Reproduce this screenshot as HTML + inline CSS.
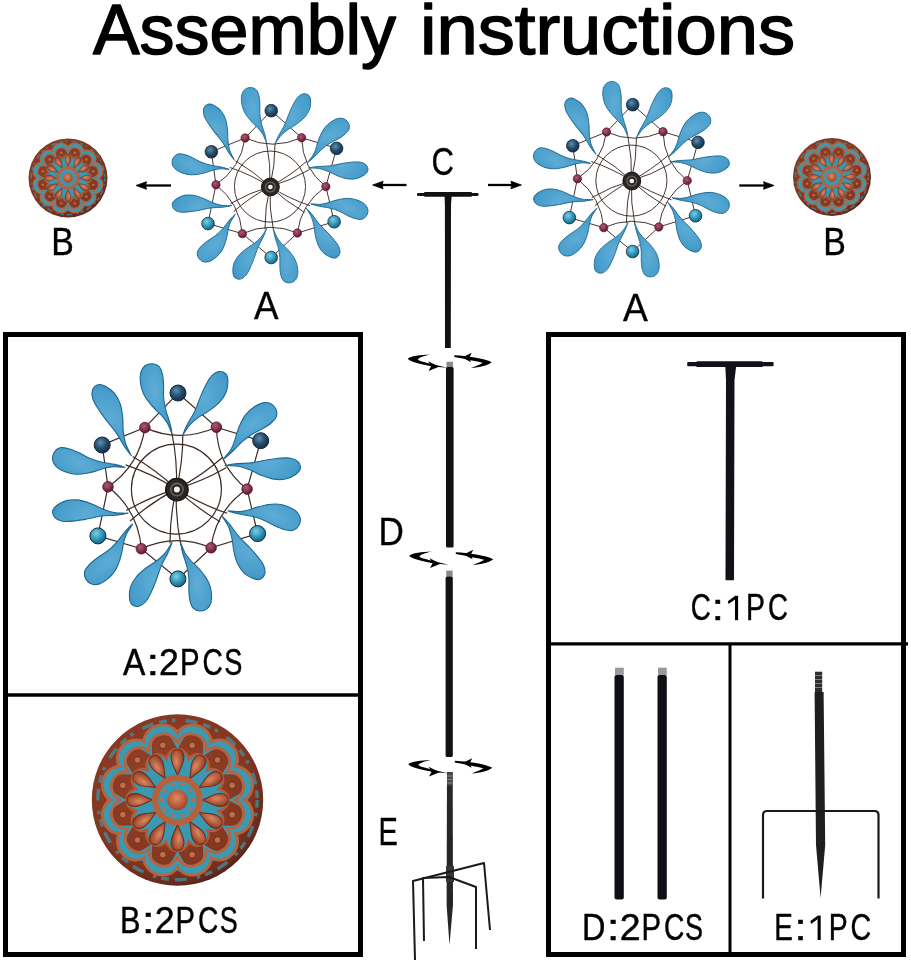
<!DOCTYPE html>
<html><head><meta charset="utf-8"><title>Assembly instructions</title>
<style>html,body{margin:0;padding:0;background:#fff;width:911px;height:964px;overflow:hidden}svg{position:absolute;left:0;top:0;display:block;will-change:transform}</style>
</head><body>
<svg width="911" height="964" viewBox="0 0 911 964">
<defs>
<radialGradient id="pg" cx="0.45" cy="0.4" r="0.75"><stop offset="0" stop-color="#5eacd6"/><stop offset="0.7" stop-color="#469cca"/><stop offset="1" stop-color="#3084b4"/></radialGradient>
<radialGradient id="bg" cx="0.4" cy="0.35" r="0.7"><stop offset="0" stop-color="#5a90b0"/><stop offset="0.55" stop-color="#244a6a"/><stop offset="1" stop-color="#142a40"/></radialGradient><radialGradient id="bt" cx="0.4" cy="0.35" r="0.7"><stop offset="0" stop-color="#7ad0e8"/><stop offset="0.6" stop-color="#2a8eb0"/><stop offset="1" stop-color="#1a5a78"/></radialGradient>
<radialGradient id="rg" cx="0.4" cy="0.35" r="0.7"><stop offset="0" stop-color="#b05878"/><stop offset="1" stop-color="#5a1428"/></radialGradient>
<radialGradient id="og" cx="0.45" cy="0.42" r="0.6"><stop offset="0" stop-color="#9a4428"/><stop offset="0.8" stop-color="#843620"/><stop offset="0.95" stop-color="#682a1c"/><stop offset="1" stop-color="#4a1c14"/></radialGradient>
<radialGradient id="op" cx="0.55" cy="0.4" r="0.6"><stop offset="0" stop-color="#dc8860"/><stop offset="1" stop-color="#8e3a22"/></radialGradient>
<radialGradient id="oc" cx="0.45" cy="0.4" r="0.6"><stop offset="0" stop-color="#e08a60"/><stop offset="1" stop-color="#a04428"/></radialGradient>
<g id="sp"><g stroke="#3e2a24" stroke-width="1.2"><circle r="45" fill="none"/><path d="M0,0Q1.2,-28.1 -4.5,-56.1" fill="none"/><path d="M0,0Q6.5,-26.5 6.4,-54.1" fill="none"/><path d="M0,0Q24.9,-13 46.3,-31.9" fill="none"/><path d="M0,0Q26.1,-7.6 50.1,-21.5" fill="none"/><path d="M0,0Q23.8,15.1 50.8,24.2" fill="none"/><path d="M0,0Q19.7,18.8 43.7,32.6" fill="none"/><path d="M0,0Q-1.2,28.1 4.5,56.1" fill="none"/><path d="M0,0Q-6.5,26.5 -6.4,54.1" fill="none"/><path d="M0,0Q-24.9,13 -46.3,31.9" fill="none"/><path d="M0,0Q-26.1,7.6 -50.1,21.5" fill="none"/><path d="M0,0Q-23.8,-15.1 -50.8,-24.2" fill="none"/><path d="M0,0Q-19.7,-18.8 -43.7,-32.6" fill="none"/><path d="M40,-61.9Q41,-22.9 70.7,0" fill="none"/><path d="M70.7,0Q39,21.7 34.7,58.7" fill="none"/><path d="M34.7,58.7Q-0.1,43.8 -35,59.6" fill="none"/><path d="M-35,59.6Q-38.3,21.2 -68.4,-2.3" fill="none"/><path d="M-68.4,-2.3Q-37,-23.6 -31.5,-61.5" fill="none"/><path d="M-31.5,-61.5Q3.1,-45.7 40,-61.9" fill="none"/><path d="M-31.5,-61.5 1.6,-96.1 40,-61.9 84.3,-48.4 70.7,0 81.2,44.5 34.7,58.7 1.5,89.8 -35,59.6 -78.5,46.8 -68.4,-2.3 -74.2,-44.1Z" fill="none"/></g><g fill="url(#pg)" stroke="#1f6890" stroke-width="1.1"><path d="M-4.5,-56.1C-4.6,-57.2 -5.5,-62.1 -6.5,-66C-7.5,-69.9 -9.6,-75 -10.7,-79.3C-11.8,-83.6 -12.5,-87.6 -12.8,-91.8C-13.2,-96 -12.6,-100.3 -12.8,-104.2C-13,-108.1 -13.2,-112 -14,-115C-14.8,-118 -15.6,-120.8 -17.3,-122.5C-19,-124.2 -21.6,-125.3 -24,-125.4C-26.4,-125.5 -29.5,-124.8 -31.4,-123.3C-33.3,-121.8 -34.8,-119.5 -35.6,-116.7C-36.4,-113.9 -36.4,-110.2 -36,-106.7C-35.6,-103.2 -34.6,-99.2 -33.1,-95.9C-31.7,-92.6 -29.4,-89.6 -27.3,-86.8C-25.2,-84 -22.9,-81.6 -20.7,-79.3C-18.5,-77 -15.9,-74.9 -14,-72.7C-12.1,-70.5 -10.3,-68.2 -9,-66C-7.7,-63.8 -6.8,-61 -6.1,-59.4C-5.3,-57.8 -4.4,-55 -4.5,-56.1Z" transform="rotate(0)"/><path d="M6.4,-54.1C6.9,-55.5 9.1,-61.1 11.1,-65C13.1,-68.9 15.9,-72.7 18.1,-77.4C20.3,-82.1 22.4,-88.5 24.3,-93C26.2,-97.5 27.9,-101.2 29.7,-104.6C31.5,-108 33.1,-111 35.2,-113.2C37.3,-115.4 39.9,-117.1 42.2,-117.5C44.5,-117.9 47.7,-117 49.2,-115.5C50.8,-114 51.4,-111.5 51.5,-108.5C51.6,-105.5 51.3,-101.1 50,-97.6C48.7,-94.1 46.4,-90.6 43.7,-87.5C41,-84.4 37,-81.5 33.6,-79C30.2,-76.5 26.7,-75 23.5,-72.7C20.3,-70.4 16.8,-67.7 14.2,-65C11.6,-62.3 9.2,-58.2 7.9,-56.4C6.6,-54.6 5.9,-52.7 6.4,-54.1Z" transform="rotate(0)"/><path d="M-4.5,-56.1C-4.6,-57.2 -5.5,-62.1 -6.5,-66C-7.5,-69.9 -9.6,-75 -10.7,-79.3C-11.8,-83.6 -12.5,-87.6 -12.8,-91.8C-13.2,-96 -12.6,-100.3 -12.8,-104.2C-13,-108.1 -13.2,-112 -14,-115C-14.8,-118 -15.6,-120.8 -17.3,-122.5C-19,-124.2 -21.6,-125.3 -24,-125.4C-26.4,-125.5 -29.5,-124.8 -31.4,-123.3C-33.3,-121.8 -34.8,-119.5 -35.6,-116.7C-36.4,-113.9 -36.4,-110.2 -36,-106.7C-35.6,-103.2 -34.6,-99.2 -33.1,-95.9C-31.7,-92.6 -29.4,-89.6 -27.3,-86.8C-25.2,-84 -22.9,-81.6 -20.7,-79.3C-18.5,-77 -15.9,-74.9 -14,-72.7C-12.1,-70.5 -10.3,-68.2 -9,-66C-7.7,-63.8 -6.8,-61 -6.1,-59.4C-5.3,-57.8 -4.4,-55 -4.5,-56.1Z" transform="rotate(62)"/><path d="M6.4,-54.1C6.9,-55.5 9.1,-61.1 11.1,-65C13.1,-68.9 15.9,-72.7 18.1,-77.4C20.3,-82.1 22.4,-88.5 24.3,-93C26.2,-97.5 27.9,-101.2 29.7,-104.6C31.5,-108 33.1,-111 35.2,-113.2C37.3,-115.4 39.9,-117.1 42.2,-117.5C44.5,-117.9 47.7,-117 49.2,-115.5C50.8,-114 51.4,-111.5 51.5,-108.5C51.6,-105.5 51.3,-101.1 50,-97.6C48.7,-94.1 46.4,-90.6 43.7,-87.5C41,-84.4 37,-81.5 33.6,-79C30.2,-76.5 26.7,-75 23.5,-72.7C20.3,-70.4 16.8,-67.7 14.2,-65C11.6,-62.3 9.2,-58.2 7.9,-56.4C6.6,-54.6 5.9,-52.7 6.4,-54.1Z" transform="rotate(57.6)"/><path d="M-4.5,-56.1C-4.6,-57.2 -5.5,-62.1 -6.5,-66C-7.5,-69.9 -9.6,-75 -10.7,-79.3C-11.8,-83.6 -12.5,-87.6 -12.8,-91.8C-13.2,-96 -12.6,-100.3 -12.8,-104.2C-13,-108.1 -13.2,-112 -14,-115C-14.8,-118 -15.6,-120.8 -17.3,-122.5C-19,-124.2 -21.6,-125.3 -24,-125.4C-26.4,-125.5 -29.5,-124.8 -31.4,-123.3C-33.3,-121.8 -34.8,-119.5 -35.6,-116.7C-36.4,-113.9 -36.4,-110.2 -36,-106.7C-35.6,-103.2 -34.6,-99.2 -33.1,-95.9C-31.7,-92.6 -29.4,-89.6 -27.3,-86.8C-25.2,-84 -22.9,-81.6 -20.7,-79.3C-18.5,-77 -15.9,-74.9 -14,-72.7C-12.1,-70.5 -10.3,-68.2 -9,-66C-7.7,-63.8 -6.8,-61 -6.1,-59.4C-5.3,-57.8 -4.4,-55 -4.5,-56.1Z" transform="rotate(117.5)"/><path d="M6.4,-54.1C6.9,-55.5 9.1,-61.1 11.1,-65C13.1,-68.9 15.9,-72.7 18.1,-77.4C20.3,-82.1 22.4,-88.5 24.3,-93C26.2,-97.5 27.9,-101.2 29.7,-104.6C31.5,-108 33.1,-111 35.2,-113.2C37.3,-115.4 39.9,-117.1 42.2,-117.5C44.5,-117.9 47.7,-117 49.2,-115.5C50.8,-114 51.4,-111.5 51.5,-108.5C51.6,-105.5 51.3,-101.1 50,-97.6C48.7,-94.1 46.4,-90.6 43.7,-87.5C41,-84.4 37,-81.5 33.6,-79C30.2,-76.5 26.7,-75 23.5,-72.7C20.3,-70.4 16.8,-67.7 14.2,-65C11.6,-62.3 9.2,-58.2 7.9,-56.4C6.6,-54.6 5.9,-52.7 6.4,-54.1Z" transform="rotate(114) scale(0.98)"/><path d="M-4.5,-56.1C-4.6,-57.2 -5.5,-62.1 -6.5,-66C-7.5,-69.9 -9.6,-75 -10.7,-79.3C-11.8,-83.6 -12.5,-87.6 -12.8,-91.8C-13.2,-96 -12.6,-100.3 -12.8,-104.2C-13,-108.1 -13.2,-112 -14,-115C-14.8,-118 -15.6,-120.8 -17.3,-122.5C-19,-124.2 -21.6,-125.3 -24,-125.4C-26.4,-125.5 -29.5,-124.8 -31.4,-123.3C-33.3,-121.8 -34.8,-119.5 -35.6,-116.7C-36.4,-113.9 -36.4,-110.2 -36,-106.7C-35.6,-103.2 -34.6,-99.2 -33.1,-95.9C-31.7,-92.6 -29.4,-89.6 -27.3,-86.8C-25.2,-84 -22.9,-81.6 -20.7,-79.3C-18.5,-77 -15.9,-74.9 -14,-72.7C-12.1,-70.5 -10.3,-68.2 -9,-66C-7.7,-63.8 -6.8,-61 -6.1,-59.4C-5.3,-57.8 -4.4,-55 -4.5,-56.1Z" transform="rotate(180) scale(0.972)"/><path d="M6.4,-54.1C6.9,-55.5 9.1,-61.1 11.1,-65C13.1,-68.9 15.9,-72.7 18.1,-77.4C20.3,-82.1 22.4,-88.5 24.3,-93C26.2,-97.5 27.9,-101.2 29.7,-104.6C31.5,-108 33.1,-111 35.2,-113.2C37.3,-115.4 39.9,-117.1 42.2,-117.5C44.5,-117.9 47.7,-117 49.2,-115.5C50.8,-114 51.4,-111.5 51.5,-108.5C51.6,-105.5 51.3,-101.1 50,-97.6C48.7,-94.1 46.4,-90.6 43.7,-87.5C41,-84.4 37,-81.5 33.6,-79C30.2,-76.5 26.7,-75 23.5,-72.7C20.3,-70.4 16.8,-67.7 14.2,-65C11.6,-62.3 9.2,-58.2 7.9,-56.4C6.6,-54.6 5.9,-52.7 6.4,-54.1Z" transform="rotate(178) scale(0.985)"/><path d="M-4.5,-56.1C-4.6,-57.2 -5.5,-62.1 -6.5,-66C-7.5,-69.9 -9.6,-75 -10.7,-79.3C-11.8,-83.6 -12.5,-87.6 -12.8,-91.8C-13.2,-96 -12.6,-100.3 -12.8,-104.2C-13,-108.1 -13.2,-112 -14,-115C-14.8,-118 -15.6,-120.8 -17.3,-122.5C-19,-124.2 -21.6,-125.3 -24,-125.4C-26.4,-125.5 -29.5,-124.8 -31.4,-123.3C-33.3,-121.8 -34.8,-119.5 -35.6,-116.7C-36.4,-113.9 -36.4,-110.2 -36,-106.7C-35.6,-103.2 -34.6,-99.2 -33.1,-95.9C-31.7,-92.6 -29.4,-89.6 -27.3,-86.8C-25.2,-84 -22.9,-81.6 -20.7,-79.3C-18.5,-77 -15.9,-74.9 -14,-72.7C-12.1,-70.5 -10.3,-68.2 -9,-66C-7.7,-63.8 -6.8,-61 -6.1,-59.4C-5.3,-57.8 -4.4,-55 -4.5,-56.1Z" transform="rotate(236)"/><path d="M6.4,-54.1C6.9,-55.5 9.1,-61.1 11.1,-65C13.1,-68.9 15.9,-72.7 18.1,-77.4C20.3,-82.1 22.4,-88.5 24.3,-93C26.2,-97.5 27.9,-101.2 29.7,-104.6C31.5,-108 33.1,-111 35.2,-113.2C37.3,-115.4 39.9,-117.1 42.2,-117.5C44.5,-117.9 47.7,-117 49.2,-115.5C50.8,-114 51.4,-111.5 51.5,-108.5C51.6,-105.5 51.3,-101.1 50,-97.6C48.7,-94.1 46.4,-90.6 43.7,-87.5C41,-84.4 37,-81.5 33.6,-79C30.2,-76.5 26.7,-75 23.5,-72.7C20.3,-70.4 16.8,-67.7 14.2,-65C11.6,-62.3 9.2,-58.2 7.9,-56.4C6.6,-54.6 5.9,-52.7 6.4,-54.1Z" transform="rotate(237)"/><path d="M-4.5,-56.1C-4.6,-57.2 -5.5,-62.1 -6.5,-66C-7.5,-69.9 -9.6,-75 -10.7,-79.3C-11.8,-83.6 -12.5,-87.6 -12.8,-91.8C-13.2,-96 -12.6,-100.3 -12.8,-104.2C-13,-108.1 -13.2,-112 -14,-115C-14.8,-118 -15.6,-120.8 -17.3,-122.5C-19,-124.2 -21.6,-125.3 -24,-125.4C-26.4,-125.5 -29.5,-124.8 -31.4,-123.3C-33.3,-121.8 -34.8,-119.5 -35.6,-116.7C-36.4,-113.9 -36.4,-110.2 -36,-106.7C-35.6,-103.2 -34.6,-99.2 -33.1,-95.9C-31.7,-92.6 -29.4,-89.6 -27.3,-86.8C-25.2,-84 -22.9,-81.6 -20.7,-79.3C-18.5,-77 -15.9,-74.9 -14,-72.7C-12.1,-70.5 -10.3,-68.2 -9,-66C-7.7,-63.8 -6.8,-61 -6.1,-59.4C-5.3,-57.8 -4.4,-55 -4.5,-56.1Z" transform="rotate(297.5)"/><path d="M6.4,-54.1C6.9,-55.5 9.1,-61.1 11.1,-65C13.1,-68.9 15.9,-72.7 18.1,-77.4C20.3,-82.1 22.4,-88.5 24.3,-93C26.2,-97.5 27.9,-101.2 29.7,-104.6C31.5,-108 33.1,-111 35.2,-113.2C37.3,-115.4 39.9,-117.1 42.2,-117.5C44.5,-117.9 47.7,-117 49.2,-115.5C50.8,-114 51.4,-111.5 51.5,-108.5C51.6,-105.5 51.3,-101.1 50,-97.6C48.7,-94.1 46.4,-90.6 43.7,-87.5C41,-84.4 37,-81.5 33.6,-79C30.2,-76.5 26.7,-75 23.5,-72.7C20.3,-70.4 16.8,-67.7 14.2,-65C11.6,-62.3 9.2,-58.2 7.9,-56.4C6.6,-54.6 5.9,-52.7 6.4,-54.1Z" transform="rotate(300) scale(1.04)"/></g><g><circle cx="1.6" cy="-96.1" r="8" fill="url(#bg)" stroke="#14283a" stroke-width="1"/><circle cx="84.3" cy="-48.4" r="8" fill="url(#bg)" stroke="#14283a" stroke-width="1"/><circle cx="81.2" cy="44.5" r="8" fill="url(#bt)" stroke="#14283a" stroke-width="1"/><circle cx="1.5" cy="89.8" r="8" fill="url(#bt)" stroke="#14283a" stroke-width="1"/><circle cx="-78.5" cy="46.8" r="8" fill="url(#bt)" stroke="#14283a" stroke-width="1"/><circle cx="-74.2" cy="-44.1" r="8" fill="url(#bg)" stroke="#14283a" stroke-width="1"/></g><g><circle cx="40" cy="-61.9" r="5.3" fill="url(#rg)" stroke="#5a1428" stroke-width="0.8"/><circle cx="70.7" cy="0" r="5.3" fill="url(#rg)" stroke="#5a1428" stroke-width="0.8"/><circle cx="34.7" cy="58.7" r="5.3" fill="url(#rg)" stroke="#5a1428" stroke-width="0.8"/><circle cx="-35" cy="59.6" r="5.3" fill="url(#rg)" stroke="#5a1428" stroke-width="0.8"/><circle cx="-68.4" cy="-2.3" r="5.3" fill="url(#rg)" stroke="#5a1428" stroke-width="0.8"/><circle cx="-31.5" cy="-61.5" r="5.3" fill="url(#rg)" stroke="#5a1428" stroke-width="0.8"/></g><circle cx="0.5" cy="0.5" r="11.3" fill="#2a2626" stroke="#141010" stroke-width="1.2"/><circle cx="0.5" cy="0.5" r="6.2" fill="none" stroke="#6a6462" stroke-width="1.6"/><circle cx="0.5" cy="0.5" r="3" fill="#f4f2f0"/></g><g id="orn"><circle r="100" fill="url(#og)"/><circle r="93" fill="none" stroke="#3d8fa0" stroke-width="4" stroke-dasharray="9 6 4 12 14 7" opacity="0.75"/><path d="M72,0C89.5,9.4 82.2,36.6 62.4,36C72.8,52.9 52.9,72.8 36,62.4C36.6,82.2 9.4,89.5 0,72C-9.4,89.5 -36.6,82.2 -36,62.4C-52.9,72.8 -72.8,52.9 -62.4,36C-82.2,36.6 -89.5,9.4 -72,0C-89.5,-9.4 -82.2,-36.6 -62.4,-36C-72.8,-52.9 -52.9,-72.8 -36,-62.4C-36.6,-82.2 -9.4,-89.5 -0,-72C9.4,-89.5 36.6,-82.2 36,-62.4C52.9,-72.8 72.8,-52.9 62.4,-36C82.2,-36.6 89.5,-9.4 72,-0Z" fill="none" stroke="#3a9ab2" stroke-width="12"/><path d="M78,0C95.5,10 87.7,39 67.5,39C77.7,56.4 56.4,77.7 39,67.5C39,87.7 10,95.5 0,78C-10,95.5 -39,87.7 -39,67.5C-56.4,77.7 -77.7,56.4 -67.5,39C-87.7,39 -95.5,10 -78,0C-95.5,-10 -87.7,-39 -67.5,-39C-77.7,-56.4 -56.4,-77.7 -39,-67.5C-39,-87.7 -10,-95.5 -0,-78C10,-95.5 39,-87.7 39,-67.5C56.4,-77.7 77.7,-56.4 67.5,-39C87.7,-39 95.5,-10 78,-0Z" fill="none" stroke="#b8623e" stroke-width="3.2"/><path d="M67,0C84.5,8.9 77.7,34.6 58,33.5C68.8,50 50,68.8 33.5,58C34.6,77.7 8.9,84.5 0,67C-8.9,84.5 -34.6,77.7 -33.5,58C-50,68.8 -68.8,50 -58,33.5C-77.7,34.6 -84.5,8.9 -67,0C-84.5,-8.9 -77.7,-34.6 -58,-33.5C-68.8,-50 -50,-68.8 -33.5,-58C-34.6,-77.7 -8.9,-84.5 -0,-67C8.9,-84.5 34.6,-77.7 33.5,-58C50,-68.8 68.8,-50 58,-33.5C77.7,-34.6 84.5,-8.9 67,-0Z" fill="none" stroke="#b8623e" stroke-width="3.2"/><circle cx="63.8" cy="17.1" r="3.8" fill="#c07048" stroke="#5a2418" stroke-width="0.8"/><circle cx="46.7" cy="46.7" r="3.8" fill="#c07048" stroke="#5a2418" stroke-width="0.8"/><circle cx="17.1" cy="63.8" r="3.8" fill="#c07048" stroke="#5a2418" stroke-width="0.8"/><circle cx="-17.1" cy="63.8" r="3.8" fill="#c07048" stroke="#5a2418" stroke-width="0.8"/><circle cx="-46.7" cy="46.7" r="3.8" fill="#c07048" stroke="#5a2418" stroke-width="0.8"/><circle cx="-63.8" cy="17.1" r="3.8" fill="#c07048" stroke="#5a2418" stroke-width="0.8"/><circle cx="-63.8" cy="-17.1" r="3.8" fill="#c07048" stroke="#5a2418" stroke-width="0.8"/><circle cx="-46.7" cy="-46.7" r="3.8" fill="#c07048" stroke="#5a2418" stroke-width="0.8"/><circle cx="-17.1" cy="-63.8" r="3.8" fill="#c07048" stroke="#5a2418" stroke-width="0.8"/><circle cx="17.1" cy="-63.8" r="3.8" fill="#c07048" stroke="#5a2418" stroke-width="0.8"/><circle cx="46.7" cy="-46.7" r="3.8" fill="#c07048" stroke="#5a2418" stroke-width="0.8"/><circle cx="63.8" cy="-17.1" r="3.8" fill="#c07048" stroke="#5a2418" stroke-width="0.8"/><path d="M48.3,12.9C59.7,22.9 49.7,40.3 35.4,35.4C40.3,49.7 22.9,59.7 12.9,48.3C10,63.2 -10,63.2 -12.9,48.3C-22.9,59.7 -40.3,49.7 -35.4,35.4C-49.7,40.3 -59.7,22.9 -48.3,12.9C-63.2,10 -63.2,-10 -48.3,-12.9C-59.7,-22.9 -49.7,-40.3 -35.4,-35.4C-40.3,-49.7 -22.9,-59.7 -12.9,-48.3C-10,-63.2 10,-63.2 12.9,-48.3C22.9,-59.7 40.3,-49.7 35.4,-35.4C49.7,-40.3 59.7,-22.9 48.3,-12.9C63.2,-10 63.2,10 48.3,12.9Z" fill="#3a98b0" stroke="#b05a38" stroke-width="3"/><path d="M28,0C36,-2 42,-7.5 50,-7.5C56,-7.5 59,-4 59,0C59,4 56,7.5 50,7.5C42,7.5 36,2 28,0Z" transform="rotate(0)" fill="url(#op)" stroke="#6a2c1a" stroke-width="1.2"/><path d="M28,0C36,-2 42,-7.5 50,-7.5C56,-7.5 59,-4 59,0C59,4 56,7.5 50,7.5C42,7.5 36,2 28,0Z" transform="rotate(30)" fill="url(#op)" stroke="#6a2c1a" stroke-width="1.2"/><path d="M28,0C36,-2 42,-7.5 50,-7.5C56,-7.5 59,-4 59,0C59,4 56,7.5 50,7.5C42,7.5 36,2 28,0Z" transform="rotate(60)" fill="url(#op)" stroke="#6a2c1a" stroke-width="1.2"/><path d="M28,0C36,-2 42,-7.5 50,-7.5C56,-7.5 59,-4 59,0C59,4 56,7.5 50,7.5C42,7.5 36,2 28,0Z" transform="rotate(90)" fill="url(#op)" stroke="#6a2c1a" stroke-width="1.2"/><path d="M28,0C36,-2 42,-7.5 50,-7.5C56,-7.5 59,-4 59,0C59,4 56,7.5 50,7.5C42,7.5 36,2 28,0Z" transform="rotate(120)" fill="url(#op)" stroke="#6a2c1a" stroke-width="1.2"/><path d="M28,0C36,-2 42,-7.5 50,-7.5C56,-7.5 59,-4 59,0C59,4 56,7.5 50,7.5C42,7.5 36,2 28,0Z" transform="rotate(150)" fill="url(#op)" stroke="#6a2c1a" stroke-width="1.2"/><path d="M28,0C36,-2 42,-7.5 50,-7.5C56,-7.5 59,-4 59,0C59,4 56,7.5 50,7.5C42,7.5 36,2 28,0Z" transform="rotate(180)" fill="url(#op)" stroke="#6a2c1a" stroke-width="1.2"/><path d="M28,0C36,-2 42,-7.5 50,-7.5C56,-7.5 59,-4 59,0C59,4 56,7.5 50,7.5C42,7.5 36,2 28,0Z" transform="rotate(210)" fill="url(#op)" stroke="#6a2c1a" stroke-width="1.2"/><path d="M28,0C36,-2 42,-7.5 50,-7.5C56,-7.5 59,-4 59,0C59,4 56,7.5 50,7.5C42,7.5 36,2 28,0Z" transform="rotate(240)" fill="url(#op)" stroke="#6a2c1a" stroke-width="1.2"/><path d="M28,0C36,-2 42,-7.5 50,-7.5C56,-7.5 59,-4 59,0C59,4 56,7.5 50,7.5C42,7.5 36,2 28,0Z" transform="rotate(270)" fill="url(#op)" stroke="#6a2c1a" stroke-width="1.2"/><path d="M28,0C36,-2 42,-7.5 50,-7.5C56,-7.5 59,-4 59,0C59,4 56,7.5 50,7.5C42,7.5 36,2 28,0Z" transform="rotate(300)" fill="url(#op)" stroke="#6a2c1a" stroke-width="1.2"/><path d="M28,0C36,-2 42,-7.5 50,-7.5C56,-7.5 59,-4 59,0C59,4 56,7.5 50,7.5C42,7.5 36,2 28,0Z" transform="rotate(330)" fill="url(#op)" stroke="#6a2c1a" stroke-width="1.2"/><circle r="26" fill="#3a98b0" stroke="#b8603c" stroke-width="7"/><circle cx="19" cy="0" r="2.2" fill="#c06a48"/><circle cx="15.4" cy="11.2" r="2.2" fill="#c06a48"/><circle cx="5.9" cy="18.1" r="2.2" fill="#c06a48"/><circle cx="-5.9" cy="18.1" r="2.2" fill="#c06a48"/><circle cx="-15.4" cy="11.2" r="2.2" fill="#c06a48"/><circle cx="-19" cy="0" r="2.2" fill="#c06a48"/><circle cx="-15.4" cy="-11.2" r="2.2" fill="#c06a48"/><circle cx="-5.9" cy="-18.1" r="2.2" fill="#c06a48"/><circle cx="5.9" cy="-18.1" r="2.2" fill="#c06a48"/><circle cx="15.4" cy="-11.2" r="2.2" fill="#c06a48"/><circle r="12" fill="url(#oc)"/></g></defs>
<g stroke="#000" stroke-width="1.5" stroke-linejoin="round"><text x="93" y="54" font-family="Liberation Sans" fill="#000" font-size="70" textLength="303" lengthAdjust="spacingAndGlyphs">Assembly</text><text x="420" y="54" font-family="Liberation Sans" fill="#000" font-size="70" textLength="375" lengthAdjust="spacingAndGlyphs">instructions</text></g>
<use href="#sp" transform="translate(270,186.6) scale(0.79)"/>
<use href="#sp" transform="translate(631.4,180.6) scale(0.79)"/>
<use href="#sp" transform="translate(176.4,489.1)"/>
<use href="#orn" transform="translate(68,178) scale(0.395)"/>
<use href="#orn" transform="translate(832,177) scale(0.39)"/>
<use href="#orn" transform="translate(177.5,800) scale(0.857)"/>
<g stroke="#000" stroke-width="0.35"><text x="51.2" y="254.5" font-family="Liberation Sans" font-size="39" textLength="22.57" lengthAdjust="spacingAndGlyphs">B</text></g>
<g stroke="#000" stroke-width="0.35"><text x="253.9" y="318.5" font-family="Liberation Sans" font-size="39" textLength="24.55" lengthAdjust="spacingAndGlyphs">A</text></g>
<g stroke="#000" stroke-width="0.35"><text x="431.6" y="175.3" font-family="Liberation Sans" font-size="39" textLength="22.47" lengthAdjust="spacingAndGlyphs">C</text></g>
<g stroke="#000" stroke-width="0.35"><text x="622.9" y="320.6" font-family="Liberation Sans" font-size="39" textLength="24.85" lengthAdjust="spacingAndGlyphs">A</text></g>
<g stroke="#000" stroke-width="0.35"><text x="823.2" y="254.6" font-family="Liberation Sans" font-size="39" textLength="22.57" lengthAdjust="spacingAndGlyphs">B</text></g>
<g stroke="#000" stroke-width="0.35"><text x="378.6" y="545" font-family="Liberation Sans" font-size="39" textLength="25.37" lengthAdjust="spacingAndGlyphs">D</text></g>
<g stroke="#000" stroke-width="0.35"><text x="378.4" y="845" font-family="Liberation Sans" font-size="39" textLength="19.32" lengthAdjust="spacingAndGlyphs">E</text></g>
<path d="M143,185.5H171" stroke="#000" stroke-width="2.3"/><path d="M136,185.5L146.5,181.7L145.5,185.5L146.5,189.3Z" fill="#000" stroke="#000" stroke-width="0.8" stroke-linejoin="round"/>
<path d="M379.6,185H406.5" stroke="#000" stroke-width="2.3"/><path d="M372.6,185L383.1,181.2L382.1,185L383.1,188.8Z" fill="#000" stroke="#000" stroke-width="0.8" stroke-linejoin="round"/>
<path d="M488,185H514.4" stroke="#000" stroke-width="2.3"/><path d="M521.4,185L510.9,181.2L511.9,185L510.9,188.8Z" fill="#000" stroke="#000" stroke-width="0.8" stroke-linejoin="round"/>
<path d="M739.3,185.5H767" stroke="#000" stroke-width="2.3"/><path d="M774,185.5L763.5,181.7L764.5,185.5L763.5,189.3Z" fill="#000" stroke="#000" stroke-width="0.8" stroke-linejoin="round"/>
<g fill="none" stroke="#000">
<rect x="5.5" y="334.5" width="355" height="620" stroke-width="5"/>
<rect x="548.5" y="334.5" width="355" height="620" stroke-width="5"/>
<path d="M8,695H358" stroke-width="3.5"/>
<path d="M551,643.8H908" stroke-width="3.2"/>
<path d="M730,645V952" stroke-width="3"/>
</g>
<g fill="#000" stroke="#000" stroke-width="0.45"><text x="123.1" y="675.3" font-family="Liberation Sans" font-size="36" textLength="22.33" lengthAdjust="spacingAndGlyphs">A</text><text x="146.4" y="675.3" font-family="Liberation Sans" font-size="36" textLength="12.74" lengthAdjust="spacingAndGlyphs">:</text><text x="159.1" y="675.3" font-family="Liberation Sans" font-size="36" textLength="19.87" lengthAdjust="spacingAndGlyphs">2</text><text x="180" y="675.3" font-family="Liberation Sans" font-size="36" textLength="19.56" lengthAdjust="spacingAndGlyphs">P</text><text x="202.5" y="675.3" font-family="Liberation Sans" font-size="36" textLength="20.30" lengthAdjust="spacingAndGlyphs">C</text><text x="224.2" y="675.3" font-family="Liberation Sans" font-size="36" textLength="18.10" lengthAdjust="spacingAndGlyphs">S</text></g>
<g fill="#000" stroke="#000" stroke-width="0.45"><text x="119.9" y="933.1" font-family="Liberation Sans" font-size="36" textLength="20.44" lengthAdjust="spacingAndGlyphs">B</text><text x="141.8" y="933.1" font-family="Liberation Sans" font-size="36" textLength="13.03" lengthAdjust="spacingAndGlyphs">:</text><text x="154.7" y="933.1" font-family="Liberation Sans" font-size="36" textLength="19.87" lengthAdjust="spacingAndGlyphs">2</text><text x="175.6" y="933.1" font-family="Liberation Sans" font-size="36" textLength="19.43" lengthAdjust="spacingAndGlyphs">P</text><text x="198.1" y="933.1" font-family="Liberation Sans" font-size="36" textLength="20.30" lengthAdjust="spacingAndGlyphs">C</text><text x="219.8" y="933.1" font-family="Liberation Sans" font-size="36" textLength="17.98" lengthAdjust="spacingAndGlyphs">S</text></g>
<g fill="#000" stroke="#000" stroke-width="0.45"><text x="690.8" y="620.2" font-family="Liberation Sans" font-size="36" textLength="20.07" lengthAdjust="spacingAndGlyphs">C</text><text x="711.8" y="620.2" font-family="Liberation Sans" font-size="36" textLength="12.16" lengthAdjust="spacingAndGlyphs">:</text><path d="M735,595.8H738.1V620.2H735Z" stroke="none"/><path d="M735.3,595.8L727.9,601.3L728.5,604.1L735,599.5Z" stroke="none"/><text x="746.1" y="620.2" font-family="Liberation Sans" font-size="36" textLength="18.93" lengthAdjust="spacingAndGlyphs">P</text><text x="768.1" y="620.2" font-family="Liberation Sans" font-size="36" textLength="19.96" lengthAdjust="spacingAndGlyphs">C</text></g>
<g fill="#000" stroke="#000" stroke-width="0.45"><text x="582" y="940" font-family="Liberation Sans" font-size="36" textLength="23.42" lengthAdjust="spacingAndGlyphs">D</text><text x="606.7" y="940" font-family="Liberation Sans" font-size="36" textLength="12.74" lengthAdjust="spacingAndGlyphs">:</text><text x="619.8" y="940" font-family="Liberation Sans" font-size="36" textLength="20.85" lengthAdjust="spacingAndGlyphs">2</text><text x="641.5" y="940" font-family="Liberation Sans" font-size="36" textLength="19.56" lengthAdjust="spacingAndGlyphs">P</text><text x="664" y="940" font-family="Liberation Sans" font-size="36" textLength="20.30" lengthAdjust="spacingAndGlyphs">C</text><text x="685" y="940" font-family="Liberation Sans" font-size="36" textLength="17.98" lengthAdjust="spacingAndGlyphs">S</text></g>
<g fill="#000" stroke="#000" stroke-width="0.45"><text x="774.3" y="940" font-family="Liberation Sans" font-size="36" textLength="18.58" lengthAdjust="spacingAndGlyphs">E</text><text x="794.4" y="940" font-family="Liberation Sans" font-size="36" textLength="12.16" lengthAdjust="spacingAndGlyphs">:</text><path d="M817.6,915.6H820.7V940H817.6Z" stroke="none"/><path d="M817.9,915.6L810.4,921.1L811,923.9L817.6,919.3Z" stroke="none"/><text x="828.7" y="940" font-family="Liberation Sans" font-size="36" textLength="18.93" lengthAdjust="spacingAndGlyphs">P</text><text x="850.6" y="940" font-family="Liberation Sans" font-size="36" textLength="20.64" lengthAdjust="spacingAndGlyphs">C</text></g>
<g fill="#111">
<rect x="417" y="192.9" width="61.5" height="3.2" rx="1"/><rect x="424" y="192.1" width="48" height="4.6" rx="1"/>
<path d="M444.5,195L451.7,195L451,205L450.8,348.1L445,348.1L444.9,205Z"/>
<rect x="446.5" y="361.8" width="6.5" height="5.5" fill="#8a8a8a"/>
<rect x="446" y="367" width="7.6" height="180.6" rx="1.5"/>
<rect x="446.2" y="570.6" width="6.4" height="6.1" fill="#8a8a8a"/>
<rect x="445.6" y="576.5" width="7.2" height="180.5" rx="1.5"/>
<path d="M447,772L452.7,772L453,905L449.5,945L446.6,905Z" fill="#262626"/>
<rect x="446" y="866" width="8" height="16" fill="#3a3632"/><rect x="447.2" y="772.5" width="5.4" height="13" fill="#4a4a4c"/><path d="M447.2,776h5.4M447.2,779.5h5.4M447.2,783h5.4" stroke="#9a9a9a" stroke-width="0.8"/>
</g>
<g stroke="#1a1a1a" stroke-width="2" fill="none" stroke-linejoin="round">
<path d="M415,960L413,881L484,863L490,930"/>
<path d="M424,941L423,878L449,877L476,887L476,949"/>
</g>
<g transform="translate(-1.5,-197)" fill="#000"><path d="M431.8,551.6C422,552 412,553.3 409.3,555.6C410,558 420,561 434.3,563.6L448.6,564.8L434.3,561.3C425,559.4 419.5,557.5 419.4,556.6C419.8,555 425,553 431.8,551.6Z"/><path d="M429.6,558.2L440.6,563.8L430,567.9L432.6,563.2Z"/><path d="M455.8,552.3C468,553 486,555.2 493.2,559.3C490.5,562.2 481,564.4 472.5,565C478,562.8 482,561.5 484.2,559.8C479,558.2 467,556 455.8,553.9Z"/><path d="M463.6,554.5L473.2,549.8L470.8,554.8L472.6,559.2Z"/></g>
<g transform="translate(0,0)" fill="#000"><path d="M431.8,551.6C422,552 412,553.3 409.3,555.6C410,558 420,561 434.3,563.6L448.6,564.8L434.3,561.3C425,559.4 419.5,557.5 419.4,556.6C419.8,555 425,553 431.8,551.6Z"/><path d="M429.6,558.2L440.6,563.8L430,567.9L432.6,563.2Z"/><path d="M455.8,552.3C468,553 486,555.2 493.2,559.3C490.5,562.2 481,564.4 472.5,565C478,562.8 482,561.5 484.2,559.8C479,558.2 467,556 455.8,553.9Z"/><path d="M463.6,554.5L473.2,549.8L470.8,554.8L472.6,559.2Z"/></g>
<g transform="translate(-1,208.5)" fill="#000"><path d="M431.8,551.6C422,552 412,553.3 409.3,555.6C410,558 420,561 434.3,563.6L448.6,564.8L434.3,561.3C425,559.4 419.5,557.5 419.4,556.6C419.8,555 425,553 431.8,551.6Z"/><path d="M429.6,558.2L440.6,563.8L430,567.9L432.6,563.2Z"/><path d="M455.8,552.3C468,553 486,555.2 493.2,559.3C490.5,562.2 481,564.4 472.5,565C478,562.8 482,561.5 484.2,559.8C479,558.2 467,556 455.8,553.9Z"/><path d="M463.6,554.5L473.2,549.8L470.8,554.8L472.6,559.2Z"/></g>
<g fill="#111218">
<rect x="687.2" y="362" width="86.4" height="4.3" rx="1"/>
<rect x="696" y="361.3" width="67" height="5.6" rx="1.5"/>
<path d="M725.3,366L736.2,366L734.5,380L734,580.2L725.5,580.2L726,380Z"/>
</g>
<g fill="#0e1016">
<rect x="615.0" y="667.7" width="8.8" height="7.5" fill="#9a9a9a"/>
<rect x="614.5" y="675" width="9.3" height="224.5" rx="2"/>
<rect x="658.0" y="667.7" width="8.8" height="7.5" fill="#9a9a9a"/>
<rect x="657.5" y="675" width="9.3" height="224.5" rx="2"/>
</g>
<rect x="815" y="671.7" width="7.2" height="21" fill="#2e2e30"/><path d="M815,675.5h7.2M815,679.5h7.2M815,683.5h7.2M815,687.5h7.2" stroke="#8a8a8a" stroke-width="0.9"/>
<path d="M814.6,692L823.6,692L825.2,845L820.6,898L816,845Z" fill="#1e1e20"/>
<path d="M763,898.5V815Q763,811 767,811H874.5Q878.5,811 878.5,815V898.5" fill="none" stroke="#1a1a1a" stroke-width="2.2"/>
</svg>
</body></html>
